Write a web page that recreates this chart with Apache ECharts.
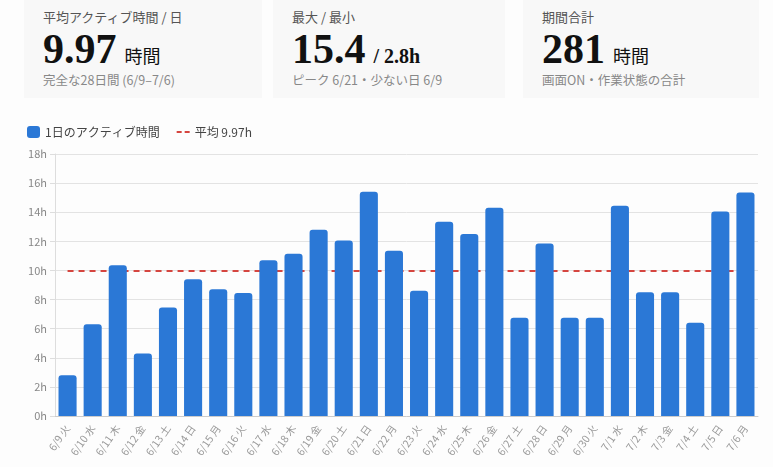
<!DOCTYPE html>
<html>
<head>
<meta charset="utf-8">
<script src="https://cdn.jsdelivr.net/npm/echarts@6/dist/echarts.min.js"></script>
<style>
  html, body { margin: 0; padding: 0; background: #fdfdfd; }
  body { width: 773px; height: 467px; position: relative; overflow: hidden;
         font-family: "Noto Sans CJK JP", "Noto Sans", sans-serif; }
  #chart { position: absolute; left: 0; top: 0; width: 773px; height: 467px; }
  .card { position: absolute; top: 0; height: 98px; background: #f8f8f8; z-index: 2; }
  .card .lbl { position: absolute; left: 19px; top: 9px; font-size: 13px; line-height: 16px; color: #555; white-space: nowrap; }
  .card .num { position: absolute; left: 19px; top: 28px; line-height: 42px; white-space: nowrap; color: #111; }
  .card .num b { font-family: "Liberation Serif", serif; font-size: 42px; font-weight: bold; }
  .card .num span { font-size: 18px; margin-left: 8px; }
  .card .num i { font-style: normal; font-family: "Liberation Serif", serif; font-weight: bold; font-size: 20px; margin-left: 8px; }
  .card .sub { position: absolute; left: 19px; top: 72px; font-size: 12.5px; line-height: 16px; color: #888; white-space: nowrap; }
</style>
</head>
<body>
<div id="chart"></div>
<div class="card" style="left:24px;width:238px">
  <div class="lbl">平均アクティブ時間 / 日</div>
  <div class="num"><b>9.97</b><span>時間</span></div>
  <div class="sub">完全な28日間 (6/9–7/6)</div>
</div>
<div class="card" style="left:273px;width:232px">
  <div class="lbl">最大 / 最小</div>
  <div class="num"><b>15.4</b><i>/ 2.8h</i></div>
  <div class="sub">ピーク 6/21・少ない日 6/9</div>
</div>
<div class="card" style="left:523px;width:236px">
  <div class="lbl">期間合計</div>
  <div class="num"><b>281</b><span>時間</span></div>
  <div class="sub">画面ON・作業状態の合計</div>
</div>
<script>
const days = ['6/9 火', '6/10 水', '6/11 木', '6/12 金', '6/13 土', '6/14 日', '6/15 月',
    '6/16 火', '6/17 水', '6/18 木', '6/19 金', '6/20 土', '6/21 日', '6/22 月',
    '6/23 火', '6/24 水', '6/25 木', '6/26 金', '6/27 土', '6/28 日', '6/29 月',
    '6/30 火', '7/1 水', '7/2 木', '7/3 金', '7/4 土', '7/5 日', '7/6 月'];
const activeHours = [2.8, 6.3, 10.35, 4.3, 7.45, 9.4, 8.7, 8.45, 10.7, 11.15,
    12.8, 12.05, 15.4, 11.35, 8.6, 13.35, 12.5, 14.3, 6.75, 11.85,
    6.75, 6.75, 14.45, 8.5, 8.5, 6.4, 14.05, 15.35];
const avgHours = 9.97;
const avgLine = days.map(() => avgHours);

let myChart = echarts.init(document.getElementById('chart'));

let option = {
    animation: false,
    textStyle: { fontFamily: '"Noto Sans CJK JP", "Noto Sans", sans-serif' },
    legend: {
        left: 22,
        top: 121,
        itemWidth: 13,
        itemHeight: 12,
        itemGap: 17,
        textStyle: { color: '#444', fontSize: 12 },
        data: [
            { name: '1日のアクティブ時間', icon: 'roundRect' },
            // two short dashes, like the dashed average line
            { name: '平均 9.97h', icon: 'path://M0,0H5V2H0Z M8,0H13V2H8Z' }
        ]
    },
    grid: { left: 55, right: 15, top: 154, bottom: 51 },
    xAxis: {
        type: 'category',
        data: days,
        axisLine: { lineStyle: { color: '#ccc' } },
        axisTick: { show: false },
        axisLabel: { rotate: 55, color: '#999', fontSize: 10.5, margin: 10, interval: 0 }
    },
    yAxis: {
        type: 'value',
        min: 0,
        max: 18,
        interval: 2,
        axisLine: { show: true, lineStyle: { color: '#ddd' } },
        axisTick: { show: true, length: 5, lineStyle: { color: '#ddd' } },
        axisLabel: { formatter: '{value}h', color: '#888', fontSize: 11, margin: 8 },
        splitLine: { lineStyle: { color: '#e3e3e3' } }
    },
    series: [
        {
            name: '1日のアクティブ時間',
            type: 'bar',
            data: activeHours,
            barCategoryGap: '28%',
            z: 3,
            itemStyle: { color: '#2b78d6', borderRadius: [3, 3, 0, 0] }
        },
        {
            name: '平均 9.97h',
            type: 'line',
            data: avgLine,
            symbol: 'none',
            z: 2,
            itemStyle: { color: '#d5453f' },
            lineStyle: { color: '#d5453f', width: 2, type: [6, 5] }
        }
    ]
};

myChart.setOption(option);
</script>
</body>
</html>
